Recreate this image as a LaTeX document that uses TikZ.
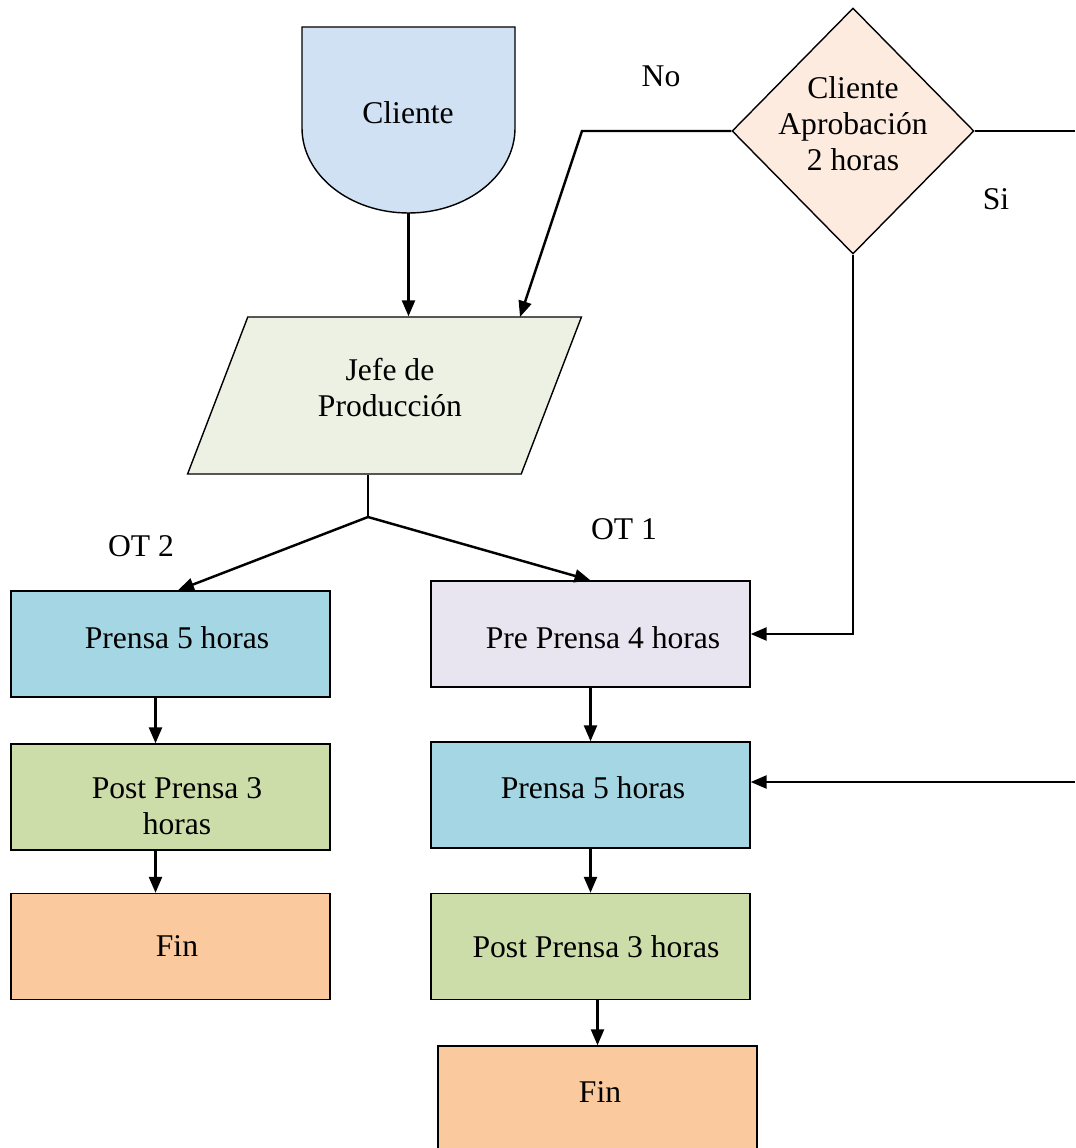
\documentclass[tikz,border=0pt]{standalone}
\usepackage{fontspec}
\setmainfont{Liberation Serif}
\usetikzlibrary{shapes.geometric,arrows.meta}
\definecolor{cliblue}{HTML}{CFE1F3}
\definecolor{jefegreen}{HTML}{EDF1E4}
\definecolor{aprobpeach}{HTML}{FDEBDF}
\definecolor{prensablue}{HTML}{A4D6E3}
\definecolor{postgreen}{HTML}{CCDDAA}
\definecolor{finorange}{HTML}{FACA9E}
\definecolor{prelilac}{HTML}{E8E4F0}

\begin{document}
\begin{tikzpicture}[x=0.02cm,y=-0.02cm,
  every node/.style={font=\fontsize{18}{20.5}\selectfont,align=center},
  box/.style={draw,rectangle,minimum width=6.38cm,minimum height=2.12cm,inner sep=0pt,line width=0.8pt},
  flow/.style={line width=1.4pt,-{Triangle[length=0.32cm,width=0.26cm]}},
  link/.style={line width=1.4pt}]

\useasboundingbox (0,0) rectangle (1075,1148);
\clip (0,0) rectangle (1075,1148);

%Cliente
\draw [line width=0.8pt,fill=cliblue] (302,27) -- (515,27) -- (515,128) arc[start angle=0,end angle=180,x radius=106.5,y radius=85] -- cycle;
\node (cli) at (408,113) {Cliente};
\coordinate (clibot) at (408.5,213);

%Jefe de Produccion
\node[trapezium,trapezium left angle=63.6,trapezium right angle=116.4,trapezium stretches=true,draw,line width=0.8pt,fill=jefegreen,minimum width=7.9cm,minimum height=3.14cm,inner sep=0pt] (jefe) at (384.5,395.5) {\phantom{Jefe}};
\node (jefetxt) at (390,388) {Jefe de\\Producción};

%Aprobacion
\node[diamond,draw,line width=0.8pt,fill=aprobpeach,minimum width=4.84cm,minimum height=4.92cm,inner sep=0pt] (aprob) at (853,131) {};
\node (aprobtxt) at (853,124) {Cliente\\Aprobación\\2 horas};

%OT 2
\node[box,fill=prensablue] (prensaA) at (170.5,644) {};
\node[box,fill=postgreen] (postA) at (170.5,797) {};
\node[box,fill=finorange] (finA) at (170.5,946.5) {};
\node (prensaAtxt) at (177,638) {Prensa 5 horas};
\node (postAtxt) at (177,806) {Post Prensa 3\\horas};
\node (finAtxt) at (177,946) {Fin};

%OT 1
\node[box,fill=prelilac] (preprensa) at (590.5,634) {};
\node[box,fill=prensablue] (prensaB) at (590.5,795) {};
\node[box,fill=postgreen] (postB) at (590.5,946.5) {};
\node[box,fill=finorange] (finB) at (597.5,1099) {};
\node (preprensatxt) at (603,638) {Pre Prensa 4 horas};
\node (prensaBtxt) at (593,788) {Prensa 5 horas};
\node (postBtxt) at (596,947) {Post Prensa 3 horas};
\node (finBtxt) at (600,1092) {Fin};

\node (no) at (661,76) {No};
\node (si) at (996,199) {Si};
\node (ot2) at (141,546) {OT 2};
\node (ot1) at (624,529) {OT 1};

\coordinate (split) at (368,517);
\coordinate (nobend) at (582,131);
\coordinate (noend) at (520,317);
\coordinate (siout) at (1075,131);
\coordinate (siin) at (1075,782);

\draw [flow] (clibot) -- (clibot |- jefe.north);
\draw [link] (split |- jefe.south) -- (split);
\draw [flow] (split) -- ([xshift=0.15cm]prensaA.north);
\draw [flow] (split) -- (preprensa.north);

\draw [flow] ([xshift=-0.3cm]prensaA.south) -- ([xshift=-0.3cm]postA.north);
\draw [flow] ([xshift=-0.3cm]postA.south) -- ([xshift=-0.3cm]finA.north);

\draw [flow] (preprensa.south) -- (prensaB.north);
\draw [flow] (prensaB.south) -- (postB.north);
\draw [flow] (postB.south -| finB.north) -- (finB.north);

\draw [flow] (aprob.west) -- (nobend) -- (noend);
\draw [link] (aprob.east) -- (siout);
\draw [flow] (siin) -- (siin -| prensaB.east);
\draw [flow] (aprob.south) |- (preprensa.east);
\end{tikzpicture}
\end{document}
